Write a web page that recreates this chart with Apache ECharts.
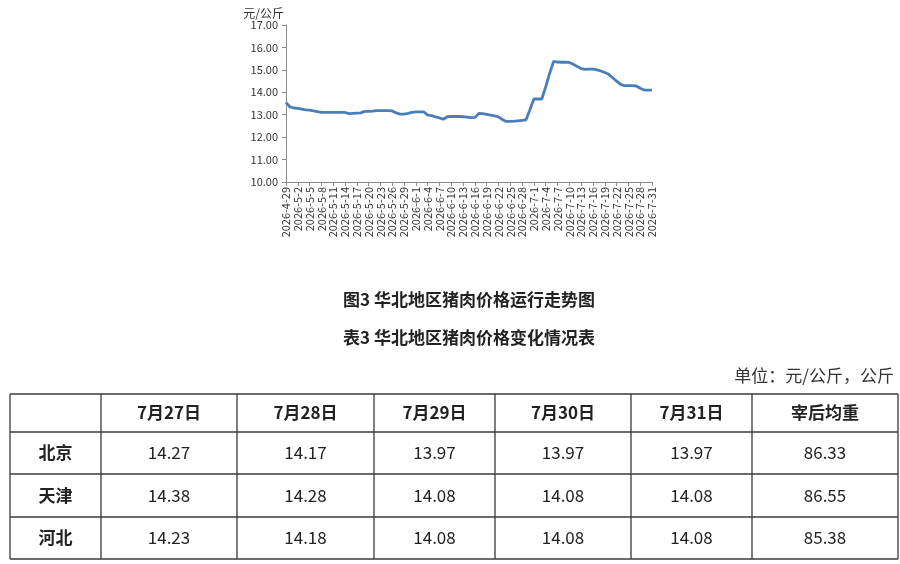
<!DOCTYPE html>
<html>
<head>
<meta charset="utf-8">
<script src="https://cdn.jsdelivr.net/npm/echarts@6/dist/echarts.min.js"></script>
<style>
html,body{margin:0;padding:0;background:#fff;}
#c{width:900px;height:564px;}
</style>
</head>
<body>
<div id="c"></div>
<script>
// ---- data ----
var dates = [];
(function(){
  var months = [[4,29,30],[5,1,31],[6,1,30],[7,1,31]];
  months.forEach(function(m){ for (var d=m[1]; d<=m[2]; d++) dates.push('2026-'+m[0]+'-'+d); });
})();
var prices = [
  13.55,13.35,13.30,13.28,13.25,13.22,13.20,13.17,13.14,13.10,
  13.10,13.10,13.10,13.10,13.10,13.10,13.05,13.06,13.07,13.08,
  13.15,13.15,13.16,13.18,13.18,13.18,13.18,13.17,13.08,13.03,
  13.03,13.06,13.10,13.13,13.13,13.13,12.98,12.96,12.90,12.86,
  12.80,12.91,12.92,12.92,12.92,12.91,12.89,12.87,12.88,13.06,
  13.05,13.02,12.98,12.95,12.90,12.78,12.70,12.70,12.71,12.73,
  12.75,12.77,13.23,13.70,13.70,13.70,14.25,14.85,15.38,15.35,
  15.34,15.34,15.33,15.25,15.15,15.06,15.02,15.03,15.03,15.00,
  14.95,14.88,14.80,14.65,14.50,14.35,14.30,14.30,14.30,14.28,
  14.18,14.10,14.10,14.10
];
var chartTitle = '图3 华北地区猪肉价格运行走势图';
var tableTitle = '表3 华北地区猪肉价格变化情况表';
var unitText = '单位：元/公斤，公斤';
var yName = '元/公斤';
var tableHeaders = ['', '7月27日', '7月28日', '7月29日', '7月30日', '7月31日', '宰后均重'];
var rowNames = ['北京', '天津', '河北'];
var rowBeijing = ['14.27','14.17','13.97','13.97','13.97','86.33'];
var rowTianjin = ['14.38','14.28','14.08','14.08','14.08','86.55'];
var rowHebei   = ['14.23','14.18','14.08','14.08','14.08','85.38'];
var tableRows = [rowBeijing, rowTianjin, rowHebei];

// ---- layout ----
var FONT = '"Noto Sans CJK SC", "Noto Sans", sans-serif';
var colX = [10, 101, 237, 374, 495, 631, 752, 898];
var rowY = [394, 432, 474, 517, 559];
var graphics = [];
var lineStyle = {stroke:'#3a3a3a', lineWidth:1.3};
colX.forEach(function(x){
  graphics.push({type:'line', shape:{x1:x,y1:rowY[0],x2:x,y2:rowY[rowY.length-1]}, style:lineStyle, silent:true});
});
rowY.forEach(function(y){
  graphics.push({type:'line', shape:{x1:colX[0],y1:y,x2:colX[colX.length-1],y2:y}, style:lineStyle, silent:true});
});
function cellText(txt, c, r, bold){
  graphics.push({type:'text', x:(colX[c]+colX[c+1])/2, y:(rowY[r]+rowY[r+1])/2,
    style:{text:txt, fill:'#222', font:(bold?'bold ':'')+'17px '+FONT, align:'center', verticalAlign:'middle'}, silent:true});
}
tableHeaders.forEach(function(h,c){ if(h) cellText(h, c, 0, true); });
rowNames.forEach(function(n,r){
  cellText(n, 0, r+1, true);
  tableRows[r].forEach(function(v,c){ cellText(v, c+1, r+1, false); });
});
graphics.push({type:'text', x:469, y:300, style:{text:chartTitle, fill:'#222', font:'bold 17px '+FONT, align:'center', verticalAlign:'middle'}});
graphics.push({type:'text', x:469, y:338, style:{text:tableTitle, fill:'#222', font:'bold 17px '+FONT, align:'center', verticalAlign:'middle'}});
graphics.push({type:'text', x:894, y:376, style:{text:unitText, fill:'#333', font:'17px '+FONT, align:'right', verticalAlign:'middle'}});

var chart = echarts.init(document.getElementById('c'));
chart.setOption({
  animation:false,
  backgroundColor:'#fff',
  grid:{left:286, right:248, top:25, bottom:382, containLabel:false},
  xAxis:{
    type:'category', data:dates, boundaryGap:false,
    axisLine:{lineStyle:{color:'#8c8c8c'}},
    axisTick:{interval:2, length:4, lineStyle:{color:'#8c8c8c'}},
    axisLabel:{interval:2, rotate:90, fontSize:11, color:'#333', fontFamily:FONT, margin:5}
  },
  yAxis:{
    type:'value', min:10, max:17, interval:1,
    name:yName, nameGap:6, nameTextStyle:{fontSize:12, color:'#333', fontFamily:FONT, align:'right', padding:[0,2,0,0]},
    axisLine:{show:true, lineStyle:{color:'#8c8c8c'}},
    axisTick:{show:true, length:4, lineStyle:{color:'#8c8c8c'}},
    splitLine:{show:false},
    axisLabel:{fontSize:11, color:'#333', fontFamily:FONT, margin:8, formatter:function(v){return v.toFixed(2);}}
  },
  series:[{
    type:'line', data:prices, symbol:'none', smooth:false,
    lineStyle:{color:'#4a7ebb', width:2.8}
  }],
  graphic:graphics
});
</script>
</body>
</html>
